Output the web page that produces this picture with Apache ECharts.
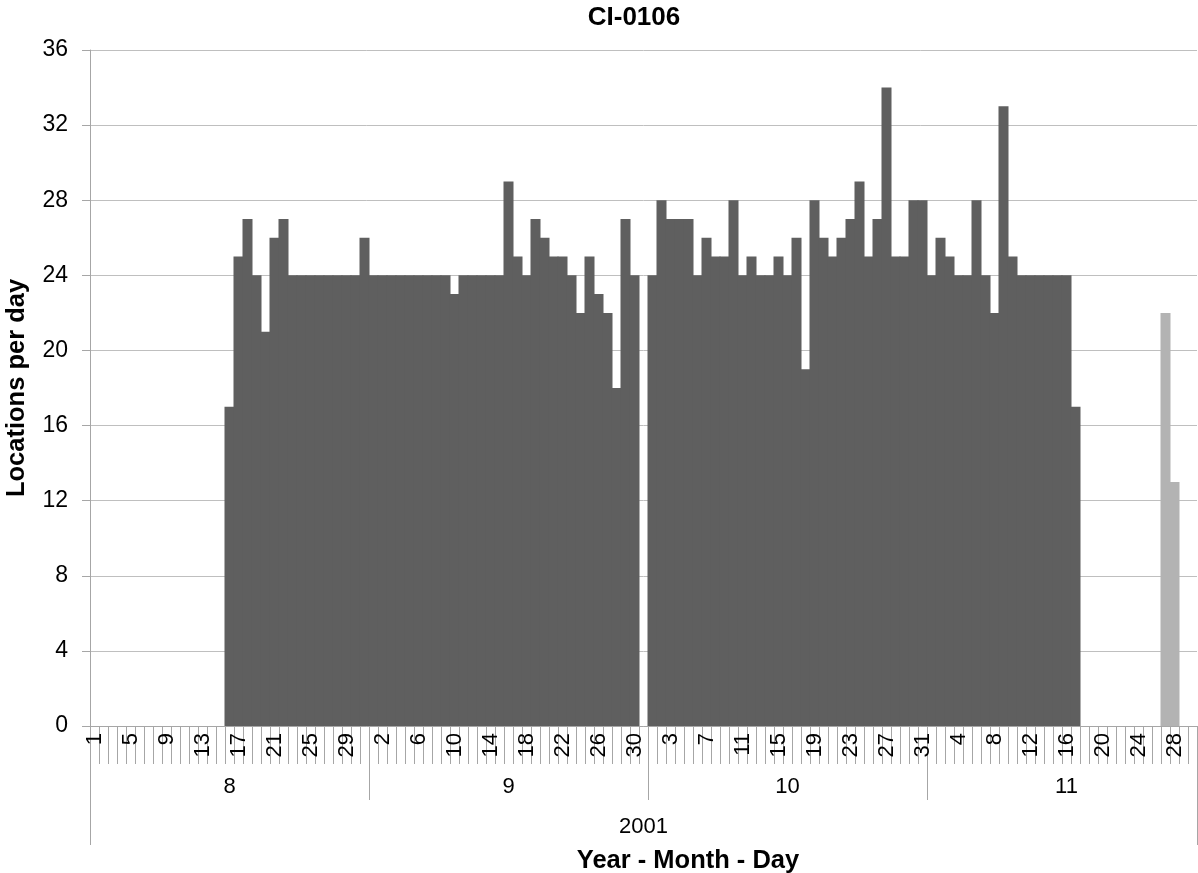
<!DOCTYPE html>
<html>
<head>
<meta charset="utf-8">
<script src="https://cdn.jsdelivr.net/npm/echarts@6/dist/echarts.min.js"></script>
<style>
html,body{margin:0;padding:0;background:#fff;}
#chart{width:1198px;height:873px;}
</style>
</head>
<body>
<div id="chart"></div>
<script>
// ---- data ----
const yearLabel = '2001';
const monthNames = ['8', '9', '10', '11'];
// day labels per month ('' = blank category in the source)
const augDays = ['1','2','3','4','5','6','7','8','9','10','11','12','13','14','15','16','17','18','19','20','21','22','23','24','25','26','27','28','29','30','31'];
const sepDays = ['1','2','3','4','5','6','7','8','9','10','11','12','13','14','15','16','17','18','19','20','21','22','23','24','25','26','27','28','29','30',''];
const octDays = ['1','2','3','4','5','6','7','8','9','10','11','12','13','14','15','16','17','18','19','20','21','22','23','24','25','26','27','28','29','30','31'];
const novDays = ['1','2','3','4','5','6','7','8','9','10','11','12','13','14','15','16','17','18','19','20','21','22','23','24','25','26','27','28','29','30'];

// locations per day (dark series)
const augValues = [null,null,null,null,null,null,null,null,null,null,null,null,null,null,null,17,25,27,24,21,26,27,24,24,24,24,24,24,24,24,26];
const sepValues = [24,24,24,24,24,24,24,24,24,23,24,24,24,24,24,29,25,24,27,26,25,25,24,22,25,23,22,18,27,24,null];
const octValues = [24,28,27,27,27,24,26,25,25,28,24,25,24,24,25,24,26,19,28,26,25,26,27,29,25,27,34,25,25,28,28];
const novValues = [24,26,25,24,24,28,24,22,33,25,24,24,24,24,24,24,17,null,null,null,null,null,null,null,null,null,null,null,null,null];
// light series (Nov)
const novLightValues = [null,null,null,null,null,null,null,null,null,null,null,null,null,null,null,null,null,null,null,null,null,null,null,null,null,null,22,13,null,null];

const yTicks = {min: 0, max: 36, interval: 4};

// ---- build ----
const monthDayLists = [augDays, sepDays, octDays, novDays];
const dayLabels = [].concat(augDays, sepDays, octDays, novDays);
const darkSeries = [].concat(augValues, sepValues, octValues, novValues);
const lightSeries = [].concat(new Array(augDays.length + sepDays.length + octDays.length).fill(null), novLightValues);

const monthStarts = [];
const monthLabelIdx = {};
let acc = 0;
monthDayLists.forEach((d, i) => {
  monthStarts.push(acc);
  monthLabelIdx[acc + Math.floor(d.length / 2)] = monthNames[i];
  acc += d.length;
});
const total = acc;
const monthAxisData = dayLabels.map((_, i) => monthLabelIdx[i] !== undefined ? monthLabelIdx[i] : '');
const yearMid = Math.floor(total / 2);
const yearAxisData = dayLabels.map((_, i) => i === yearMid ? yearLabel : '');

const FONT = 'Liberation Sans, Arial, sans-serif';
const axisGray = '#a6a6a6';
const dark = '#5f5f5f';
const light = '#b3b3b3';

const chart = echarts.init(document.getElementById('chart'), null, {renderer: 'canvas'});
chart.setOption({
  animation: false,
  backgroundColor: '#ffffff',
  textStyle: {fontFamily: FONT},
  title: [
    {text: 'CI-0106', left: 629, top: 0, textAlign: 'center',
     textStyle: {fontFamily: FONT, fontSize: 26, fontWeight: 'bold', color: '#000'}},
    {text: 'Year - Month - Day', left: 683, top: 843, textAlign: 'center',
     textStyle: {fontFamily: FONT, fontSize: 25.5, fontWeight: 'bold', color: '#000'}}
  ],
  grid: {left: 90, right: 1, top: 50, bottom: 147, containLabel: false, outerBoundsMode: 'none'},
  xAxis: [
    {
      type: 'category', data: dayLabels, position: 'bottom',
      axisLine: {show: true, lineStyle: {color: axisGray, width: 1}},
      axisTick: {show: true, interval: 0, length: 38, lineStyle: {color: axisGray}},
      axisLabel: {interval: 3, rotate: 90, fontSize: 22, color: '#000', margin: 7, fontFamily: FONT},
      splitLine: {show: false}
    },
    {
      type: 'category', data: monthAxisData, position: 'bottom', offset: 0,
      axisLine: {show: false},
      axisTick: {show: true, length: 74, lineStyle: {color: axisGray},
        interval: (idx) => monthStarts.indexOf(idx) >= 0},
      axisLabel: {interval: (idx, v) => v !== '', fontSize: 22, color: '#000', margin: 50, fontFamily: FONT},
      splitLine: {show: false}
    },
    {
      type: 'category', data: yearAxisData, position: 'bottom', offset: 0,
      axisLine: {show: false},
      axisTick: {show: true, length: 119, lineStyle: {color: axisGray},
        interval: (idx) => idx === 0},
      axisLabel: {interval: (idx, v) => v !== '', fontSize: 22, color: '#000', margin: 90, fontFamily: FONT},
      splitLine: {show: false}
    }
  ],
  yAxis: {
    type: 'value', min: yTicks.min, max: yTicks.max, interval: yTicks.interval,
    name: 'Locations per day', nameLocation: 'middle', nameRotate: 90, nameGap: 60,
    nameTextStyle: {fontFamily: FONT, fontSize: 25.5, fontWeight: 'bold', color: '#000'},
    axisLine: {show: true, lineStyle: {color: axisGray}},
    axisTick: {show: true, length: 8, lineStyle: {color: axisGray}},
    axisLabel: {fontSize: 23, color: '#000', margin: 22, fontFamily: FONT},
    splitLine: {show: true, lineStyle: {color: '#bfbfbf', width: 1}}
  },
  series: [
    {type: 'bar', name: 'dark', data: darkSeries, xAxisIndex: 0,
     barWidth: 10, barGap: '-100%', barCategoryGap: 0,
     itemStyle: {color: dark, borderWidth: 0}},
    {type: 'bar', name: 'light', data: lightSeries, xAxisIndex: 0,
     barWidth: 10, barGap: '-100%', barCategoryGap: 0,
     itemStyle: {color: light, borderWidth: 0}}
  ]
});
</script>
</body>
</html>
